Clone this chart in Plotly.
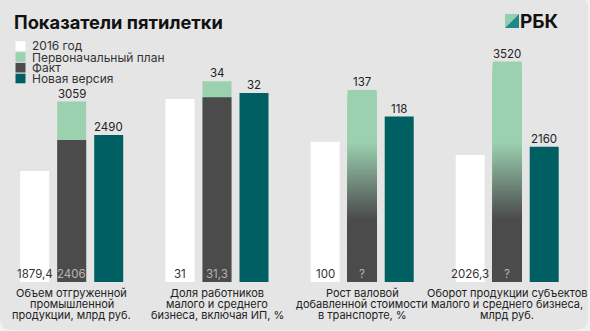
import plotly.graph_objects as go

W, H = 590, 331

# ---------------- data ----------------
title = "Показатели пятилетки"
legend_names = ["2016 год", "Первоначальный план", "Факт", "Новая версия"]
group_labels = [
    ["Объем отгруженной", "промышленной", "продукции, млрд руб."],
    ["Доля работников", "малого и среднего", "бизнеса, включая ИП, %"],
    ["Рост валовой", "добавленной стоимости", "в транспорте, %"],
    ["Оборот продукции субъектов", "малого и среднего бизнеса,", "млрд руб."],
]
values_2016 = [1879.4, 31, 100, 2026.3]
values_plan = [3059, 34, 137, 3520]
values_fact = [2406, 31.3, None, None]   # None -> unknown ("?")
values_new = [2490, 32, 118, 2160]

# ---------------- style ----------------
C_WHITE = "#ffffff"
C_GREEN = "#9cd1b0"
C_DARK = "#4b4b4b"
C_TEAL = "#005f62"
C_CARD = "#e5e5e5"
C_PAGE = "#f1f1f1"
FONT = "Inter, Lato, 'Open Sans', sans-serif"
slots = ["base", "plan", "new"]

# layout geometry (pixels)
group_x_px = [(16.2, 127.2), (161.5, 272.5), (306.7, 417.7), (451.7, 562.7)]
plot_top_px, plot_bottom_px = 40, 282
units_per_px = [16.95, 0.1694, 0.7135, 15.965]   # independent scale per group
grad_lo_px, grad_hi_px = 63, 140                   # gradient zone (height above base)


def X(px):
    return px / W


def Y(py):
    return 1 - py / H


def fmt(v):
    if v is None:
        return "?"
    return f"{v:g}".replace(".", ",")


def mix(c1, c2, t):
    a = [int(c1[i:i + 2], 16) for i in (1, 3, 5)]
    b = [int(c2[i:i + 2], 16) for i in (1, 3, 5)]
    return "rgb(%d,%d,%d)" % tuple(round(a[k] + (b[k] - a[k]) * t) for k in range(3))


fig = go.Figure()
annotations = []
shapes = []
layout_axes = {}

plot_h = plot_bottom_px - plot_top_px

for g in range(4):
    xa = "x" if g == 0 else f"x{g + 1}"
    ya = "y" if g == 0 else f"y{g + 1}"
    ymax = units_per_px[g] * plot_h
    layout_axes["xaxis" if g == 0 else f"xaxis{g + 1}"] = dict(
        domain=[X(group_x_px[g][0]), X(group_x_px[g][1])],
        anchor=ya, type="category", categoryorder="array", categoryarray=slots,
        range=[-0.5, 2.5], showgrid=False, zeroline=False, showticklabels=False,
        showline=False, ticks="", fixedrange=True,
    )
    layout_axes["yaxis" if g == 0 else f"yaxis{g + 1}"] = dict(
        domain=[Y(plot_bottom_px), Y(plot_top_px)], anchor=xa,
        range=[0, ymax], showgrid=False, zeroline=False, showticklabels=False,
        showline=False, ticks="", fixedrange=True,
    )

    # 2016 bar
    fig.add_trace(go.Bar(x=["base"], y=[values_2016[g]], marker=dict(color=C_WHITE, line=dict(width=0)),
                         xaxis=xa, yaxis=ya, showlegend=False, hoverinfo="skip"))
    plan = values_plan[g]
    fact = values_fact[g]
    if fact is not None:
        fig.add_trace(go.Bar(x=["plan"], y=[plan], marker=dict(color=C_GREEN, line=dict(width=0)),
                             xaxis=xa, yaxis=ya, showlegend=False, hoverinfo="skip"))
        fig.add_trace(go.Bar(x=["plan"], y=[fact], marker=dict(color=C_DARK, line=dict(width=0)),
                             xaxis=xa, yaxis=ya, showlegend=False, hoverinfo="skip"))
    else:
        # plan bar drawn as a gradient (fact unknown): nested bars, tallest first
        n = 80
        tops, cols = [], []
        for k in range(n):
            top = plan * (n - k) / n
            mid_px = (top - plan / (2 * n)) / units_per_px[g]
            t = min(1.0, max(0.0, (mid_px - grad_lo_px) / (grad_hi_px - grad_lo_px)))
            tops.append(top)
            cols.append(mix(C_DARK, C_GREEN, t))
        fig.add_trace(go.Bar(x=["plan"] * n, y=tops,
                             marker=dict(color=cols, line=dict(width=0)),
                             xaxis=xa, yaxis=ya, showlegend=False, hoverinfo="skip"))
    fig.add_trace(go.Bar(x=["new"], y=[values_new[g]], marker=dict(color=C_TEAL, line=dict(width=0)),
                         xaxis=xa, yaxis=ya, showlegend=False, hoverinfo="skip"))

    # labels above bars
    for slot, v in (("plan", plan), ("new", values_new[g])):
        annotations.append(dict(xref=xa, yref=ya, x=slot, y=v, text=fmt(v), showarrow=False,
                                yanchor="bottom", yshift=0, borderpad=0,
                                font=dict(family=FONT, size=11.5, color="#222222")))
    # labels at bottom inside bars
    annotations.append(dict(xref=xa, yref=ya, x="base", y=0, text=fmt(values_2016[g]), showarrow=False,
                            yanchor="bottom", yshift=0, borderpad=0,
                            font=dict(family=FONT, size=11.5, color="#333333")))
    annotations.append(dict(xref=xa, yref=ya, x="plan", y=0, text=fmt(fact), showarrow=False,
                            yanchor="bottom", yshift=0, borderpad=0,
                            font=dict(family=FONT, size=11.5, color="#b5b5b5")))
    # group labels under the bars
    for li, line in enumerate(group_labels[g]):
        annotations.append(dict(xref=xa, yref="paper", x="plan", y=Y(293 + 11 * li), text=line,
                                showarrow=False, yanchor="middle", borderpad=0,
                                font=dict(family=FONT, size=11, color="#222222")))

# ---------------- decoration ----------------
# card with rounded corners
l, t, r, b, rad = 0, -3, 588, 330, 12
card_path = (
    f"M {X(l)},{Y(t)} L {X(r - rad)},{Y(t)} Q {X(r)},{Y(t)} {X(r)},{Y(t + rad)} "
    f"L {X(r)},{Y(b - rad)} Q {X(r)},{Y(b)} {X(r - rad)},{Y(b)} "
    f"L {X(l + rad)},{Y(b)} Q {X(l)},{Y(b)} {X(l)},{Y(b - rad)} Z"
)
shapes.append(dict(type="path", xref="paper", yref="paper", path=card_path,
                   fillcolor=C_CARD, line=dict(width=0), layer="below"))

# title
annotations.append(dict(xref="paper", yref="paper", x=X(13), y=Y(22), text=f"<b>{title}</b>",
                        showarrow=False, xanchor="left", yanchor="middle", borderpad=0,
                        font=dict(family=FONT, size=18.3, color="#111111")))

# legend (custom, tight spacing like the original)
legend_colors = [C_WHITE, C_GREEN, C_DARK, C_TEAL]
legend_rows = [46, 57, 67.7, 78.5]
for name, col, cy in zip(legend_names, legend_colors, legend_rows):
    shapes.append(dict(type="rect", xref="paper", yref="paper",
                       x0=X(15.5), x1=X(25.5), y0=Y(cy + 4.8), y1=Y(cy - 4.8),
                       fillcolor=col, line=dict(width=0), layer="above"))
    annotations.append(dict(xref="paper", yref="paper", x=X(30.5), y=Y(cy), text=name,
                            showarrow=False, xanchor="left", yanchor="middle", borderpad=0,
                            font=dict(family=FONT, size=12, color="#333333")))

# RBC logo
lx0, ly0, ls = 505, 14, 14
shapes.append(dict(type="path", xref="paper", yref="paper",
                   path=f"M {X(lx0)},{Y(ly0)} L {X(lx0 + ls)},{Y(ly0)} L {X(lx0)},{Y(ly0 + ls)} Z",
                   fillcolor="#8fd0b0", line=dict(width=0)))
shapes.append(dict(type="path", xref="paper", yref="paper",
                   path=f"M {X(lx0 + ls)},{Y(ly0)} L {X(lx0 + ls)},{Y(ly0 + ls)} L {X(lx0)},{Y(ly0 + ls)} Z",
                   fillcolor="#20878a", line=dict(width=0)))
annotations.append(dict(xref="paper", yref="paper", x=X(519), y=Y(21.5), text="<b>РБК</b>",
                        showarrow=False, xanchor="left", yanchor="middle", borderpad=0,
                        font=dict(family=FONT, size=19, color="#111111")))

fig.update_layout(
    width=W, height=H, autosize=False,
    margin=dict(l=0, r=0, t=0, b=0),
    paper_bgcolor=C_PAGE, plot_bgcolor="rgba(0,0,0,0)",
    barmode="overlay", bargap=0.216,
    showlegend=False,
    annotations=annotations, shapes=shapes,
    **layout_axes,
)

fig.write_html("out.html", config={"displayModeBar": False})
